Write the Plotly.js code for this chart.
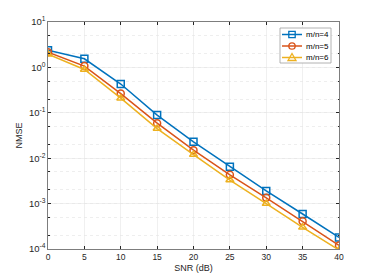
<!DOCTYPE html>
<html><head><meta charset="utf-8">
<script src="https://cdn.plot.ly/plotly-3.0.1.min.js"></script>
<style>html,body{margin:0;padding:0;background:#fff}#chart{width:374px;height:280px}</style>
</head><body><div id="chart"></div>
<script>
const snr = [0,5,10,15,20,25,30,35,40];
const nmse4 = [2.4,1.55,0.43,0.089,0.023,0.0065,0.0019,0.00059,0.00018];
const nmse5 = [2.15,1.07,0.265,0.059,0.015,0.0043,0.00134,0.00041,0.00012];
const nmse6 = [1.95,0.9,0.21,0.045,0.012,0.0033,0.001,0.0003,0.000095];
const names = ['m/n=4','m/n=5','m/n=6'];
const yTickVals = [1e-4,1e-3,1e-2,1e-1,1,10];
const yTickText = ['10<sup>-4</sup>','10<sup>-3</sup>','10<sup>-2</sup>','10<sup>-1</sup>','10<sup>0</sup>','10<sup>1</sup>'];
const xTickVals = [0,5,10,15,20,25,30,35,40];

const colors = ['#0072BD','#D95319','#EDB120'];
const symbols = ['square-open','circle-open','triangle-up-open'];
const series = [nmse4,nmse5,nmse6];
const data = series.map((y,i)=>({
  x: snr, y: y, name: names[i], type:'scatter', mode:'lines+markers',
  line:{color:colors[i], width:1.5},
  marker:{symbol:symbols[i], size:7, color:colors[i], line:{color:colors[i], width:1.5}}
}));

// custom compact legend (MATLAB style) in paper coords
const L=48, T=22, W=291, H=227;
const px = p => (p-L)/W, py = p => (T+H-p)/H;
const shapes = [];
const annotations = [];
shapes.push({type:'rect', xref:'paper', yref:'paper', x0:px(280), x1:px(331), y0:py(63), y1:py(28),
  fillcolor:'#fff', line:{color:'#a0a0a0', width:0.8}, layer:'above'});
const rows = [34.5, 46, 57.5];
rows.forEach((r,i)=>{
  shapes.push({type:'line', xref:'paper', yref:'paper', x0:px(282), x1:px(302), y0:py(r), y1:py(r),
    line:{color:colors[i], width:1.5}, layer:'above'});
  const cx=292, s=3.2;
  if(i===0) shapes.push({type:'rect', xref:'paper', yref:'paper', x0:px(cx-s), x1:px(cx+s), y0:py(r+s), y1:py(r-s),
    line:{color:colors[i], width:1.3}, fillcolor:'rgba(0,0,0,0)', layer:'above'});
  if(i===1) shapes.push({type:'circle', xref:'paper', yref:'paper', x0:px(cx-s), x1:px(cx+s), y0:py(r+s), y1:py(r-s),
    line:{color:colors[i], width:1.3}, fillcolor:'rgba(0,0,0,0)', layer:'above'});
  if(i===2) shapes.push({type:'path', xref:'paper', yref:'paper',
    path:`M ${px(cx-4)} ${py(r+3)} L ${px(cx+4)} ${py(r+3)} L ${px(cx)} ${py(r-4)} Z`,
    line:{color:colors[i], width:1.3}, fillcolor:'rgba(0,0,0,0)', layer:'above'});
  annotations.push({xref:'paper', yref:'paper', x:px(304), y:py(r), xanchor:'left', yanchor:'middle',
    text:names[i], showarrow:false, font:{size:8, color:'#000'}});
});

const axcol = '#262626';
const layout = {
  width:374, height:280,
  margin:{l:L, r:374-L-W, t:T, b:280-T-H},
  paper_bgcolor:'#fff', plot_bgcolor:'#fff',
  font:{family:'Liberation Sans, Arial, sans-serif', size:8, color:axcol},
  showlegend:false,
  shapes: shapes, annotations: annotations,
  xaxis:{range:[0,40], tickvals:xTickVals, ticks:'inside', ticklen:3, tickcolor:axcol,
    showline:true, linecolor:axcol, linewidth:0.6, mirror:'ticks',
    showgrid:true, gridcolor:'#e6e6e6', gridwidth:0.6, zeroline:false,
    title:{text:'SNR (dB)', font:{size:9, color:axcol}, standoff:3}, tickfont:{size:8.5, color:axcol}},
  yaxis:{type:'log', range:[-4,1], tickvals:yTickVals, ticktext:yTickText, ticks:'inside', ticklen:3, tickcolor:axcol,
    showline:true, linecolor:axcol, linewidth:0.6, mirror:'ticks',
    showgrid:true, gridcolor:'#e6e6e6', gridwidth:0.6, zeroline:false,
    minor:{ticks:'inside', ticklen:1.5, tickcolor:axcol, showgrid:true, gridcolor:'#e3e3e3', griddash:'dot', gridwidth:0.6},
    title:{text:'NMSE', font:{size:9, color:axcol}, standoff:4}, tickfont:{size:9.5, color:axcol}}
};
Plotly.newPlot('chart', data, layout, {staticPlot:true, displayModeBar:false});
</script></body></html>
